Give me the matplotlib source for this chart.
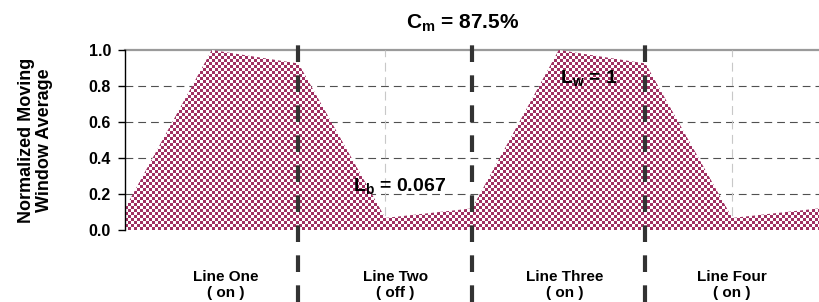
import numpy as np
import matplotlib
matplotlib.use("Agg")
import matplotlib.pyplot as plt

plt.rcParams['font.family'] = ['Liberation Sans', 'DejaVu Sans']
plt.rcParams['mathtext.fontset'] = 'custom'
plt.rcParams['mathtext.bf'] = 'Liberation Sans:bold'
plt.rcParams['mathtext.rm'] = 'Liberation Sans'

# ---- data ----
positions = [0, 1, 2, 3, 4, 5, 6, 7, 8]
values = [0.12, 1.0, 0.925, 0.067, 0.12, 1.0, 0.925, 0.067, 0.12]
boundaries = [2, 4, 6]
gray_grid_x = [3, 7]
segment_names = ["Line One", "Line Two", "Line Three", "Line Four"]
segment_states = ["( on )", "( off )", "( on )", "( on )"]
segment_label_x = [1.16, 3.12, 5.07, 7.0]
yticks = [0.0, 0.2, 0.4, 0.6, 0.8, 1.0]
title_text = r"$\mathbf{C_m}$ = 87.5%"
lw_text = r"$\mathbf{L_w}$ = 1"
lb_text = r"$\mathbf{L_b}$ = 0.067"

W, H, DPI = 820, 302, 100
fig = plt.figure(figsize=(W / DPI, H / DPI), dpi=DPI)
L, R, T, B = 125, 819, 50, 230
ax = fig.add_axes([L / W, 1 - B / H, (R - L) / W, (B - T) / H])
ax.set_xlim(0, 8)
ax.set_ylim(0, 1)

# gridlines
for yv in yticks[1:-1]:
    ax.axhline(yv, color='#505050', lw=0.8, dashes=(7, 4.5), zorder=1)
ax.axhline(1.0, color='#9a9a9a', lw=1.6, zorder=1, clip_on=False)
for xv in gray_grid_x:
    ax.axvline(xv, color='#c8c8c8', lw=0.8, dashes=(8, 5), zorder=1)

# checkerboard filled area
pw, ph = R - L, B - T
cell = 3
jj, ii = np.meshgrid(np.arange(pw), np.arange(ph))
checker = ((jj // cell + ii // cell) % 2).astype(float)
maroon = np.array([0xa0, 0x30, 0x62]) / 255.0
white = np.array([1.0, 1.0, 1.0])
img = np.where(checker[..., None] > 0.5, white, maroon)
poly = ax.fill_between(positions, 0, values, facecolor='none', edgecolor='none', zorder=2)
im = ax.imshow(img, extent=[0, 8, 0, 1], aspect='auto', interpolation='nearest', zorder=2)
im.set_clip_path(poly.get_paths()[0], transform=ax.transData)

# boundaries (thick dashed)
for bx in boundaries:
    ax.axvline(bx, ymin=-0.4, ymax=1.067, color='#333333', lw=3.0,
               dashes=(4, 3.2), clip_on=False, zorder=5)

# axes styling
for s in ['top', 'right', 'bottom']:
    ax.spines[s].set_visible(False)
ax.spines['left'].set_color('black')
ax.spines['left'].set_linewidth(1.0)
ax.spines['left'].set_zorder(6)
ax.set_xticks([])
ax.set_yticks(yticks)
ax.set_yticklabels([f"{v:.1f}" for v in yticks], fontsize=11.5, fontweight='bold')
ax.tick_params(axis='y', direction='out', length=5, width=1, pad=5)

ax.set_ylabel("Normalized Moving\nWindow Average", fontsize=13, fontweight='bold',
              linespacing=1.05)
ax.yaxis.set_label_coords(-(L - 53) / pw, 0.5)

for lx, name, state in zip(segment_label_x, segment_names, segment_states):
    ax.text(lx, (B - 281) / ph, name, ha='center', va='baseline', fontsize=11,
            fontweight='bold', clip_on=False)
    ax.text(lx, (B - 297) / ph, state, ha='center', va='baseline', fontsize=11,
            fontweight='bold', clip_on=False)

ax.text(5.01, 0.817, lw_text, ha='left', va='baseline', fontsize=14, fontweight='bold', zorder=7)
ax.text(2.63, 0.217, lb_text, ha='left', va='baseline', fontsize=14, fontweight='bold', zorder=7)
fig.text(463 / W, 1 - 29 / H, title_text, ha='center', va='baseline', fontsize=15, fontweight='bold')

fig.savefig("out.png", dpi=DPI)
